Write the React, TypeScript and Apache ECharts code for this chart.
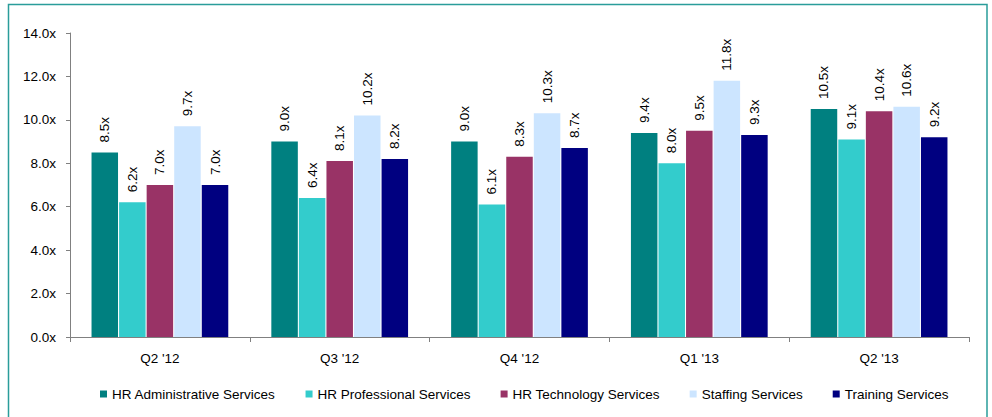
import React, { useEffect, useRef } from "react";
import * as echarts from "echarts";

const categories = ["Q2 '12", "Q3 '12", "Q4 '12", "Q1 '13", "Q2 '13"];
const seriesNames = [
  "HR Administrative Services",
  "HR Professional Services",
  "HR Technology Services",
  "Staffing Services",
  "Training Services",
];
const hrAdmin = [8.5, 9.0, 9.0, 9.4, 10.5];
const hrProfessional = [6.2, 6.4, 6.1, 8.0, 9.1];
const hrTechnology = [7.0, 8.1, 8.3, 9.5, 10.4];
const staffing = [9.7, 10.2, 10.3, 11.8, 10.6];
const training = [7.0, 8.2, 8.7, 9.3, 9.2];
const colors = ["#008080", "#33CCCC", "#993366", "#CCE5FF", "#000080"];
const yTicks = [0, 2, 4, 6, 8, 10, 12, 14];

export default function App() {
  const ref = useRef<HTMLDivElement>(null);
  useEffect(() => {
    if (!ref.current) return;
    const chart = echarts.init(ref.current, undefined, { renderer: "svg" });
    const data = [hrAdmin, hrProfessional, hrTechnology, staffing, training];
    const font = "'Liberation Sans', Arial, sans-serif";
    const fs = 13.5;
    chart.setOption({
      animation: false,
      textStyle: { fontFamily: font },
      graphic: [
        {
          type: "rect",
          shape: { x: 8.5, y: 4.5, width: 978.5, height: 440 },
          style: { fill: "none", stroke: "#2A9D9A", lineWidth: 1.5 },
          silent: true,
        },
      ],
      legend: {
        data: seriesNames,
        left: 95,
        top: 382,
        itemWidth: 7,
        itemHeight: 7,
        itemGap: 30,
        icon: "rect",
        textStyle: { fontSize: fs, color: "#000", fontFamily: font },
      },
      grid: { left: 70, right: 23, top: 33, bottom: 80, containLabel: false },
      xAxis: {
        type: "category",
        data: categories,
        axisLine: { lineStyle: { color: "#808080", width: 1 } },
        axisTick: { show: true, length: 5, lineStyle: { color: "#808080" } },
        axisLabel: { color: "#000", fontSize: fs, margin: 14, fontFamily: font },
      },
      yAxis: {
        type: "value",
        min: yTicks[0],
        max: yTicks[yTicks.length - 1],
        interval: 2,
        splitLine: { show: false },
        axisLine: { show: true, lineStyle: { color: "#808080", width: 1 } },
        axisTick: { show: true, length: 4, lineStyle: { color: "#808080" } },
        axisLabel: {
          color: "#000",
          fontSize: fs,
          margin: 14,
          fontFamily: font,
          formatter: (v: number) => v.toFixed(1) + "x",
        },
      },
      series: seriesNames.map((name, i) => ({
        name,
        type: "bar",
        data: data[i],
        barWidth: 26.5,
        barGap: "4%",
        itemStyle: { color: colors[i] },
        label: {
          show: true,
          position: "top",
          rotate: 90,
          align: "left",
          verticalAlign: "middle",
          distance: 10,
          fontSize: fs,
          color: "#000",
          fontFamily: font,
          formatter: (p: any) => Number(p.value).toFixed(1) + "x",
        },
      })),
    });
    return () => chart.dispose();
  }, []);
  return (
    <div
      ref={ref}
      style={{ position: "fixed", left: 0, top: 0, width: 992, height: 417, background: "#fff" }}
    />
  );
}
